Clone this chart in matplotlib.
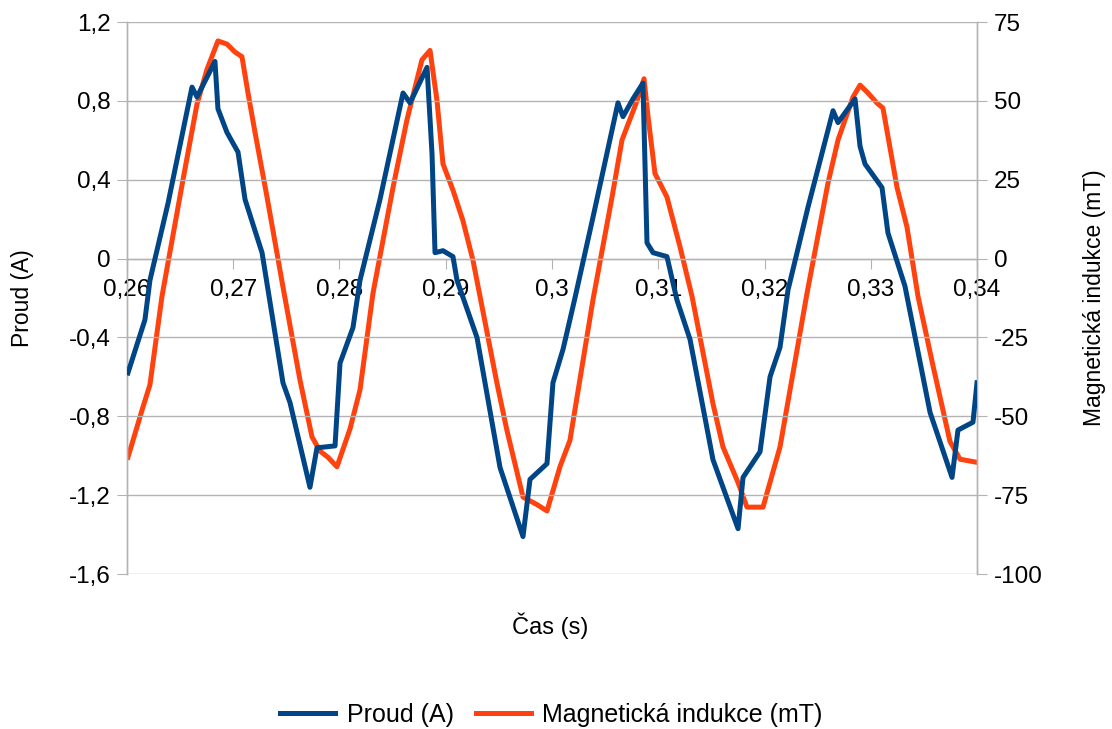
import numpy as np
import matplotlib.pyplot as plt
from matplotlib.ticker import FuncFormatter, MultipleLocator

plt.rcParams['font.family'] = ['Liberation Sans', 'DejaVu Sans']

# proud (A)
t_i = [0.26009, 0.26080, 0.26169, 0.26216, 0.26386, 0.26612, 0.26659, 0.26828,
       0.26856, 0.26941, 0.27045, 0.27111, 0.27271, 0.27468, 0.27534, 0.27722,
       0.27788, 0.27958, 0.28005, 0.28127, 0.28193, 0.28381, 0.28598, 0.28664,
       0.28824, 0.28871, 0.28899, 0.28974, 0.29068, 0.29106, 0.29294, 0.29511,
       0.29727, 0.29793, 0.29953, 0.30009, 0.30104, 0.30216, 0.30386, 0.30621,
       0.30668, 0.30762, 0.30856, 0.30894, 0.30951, 0.31082, 0.31176, 0.31299,
       0.31515, 0.31751, 0.31798, 0.31958, 0.32052, 0.32146, 0.32221, 0.32409,
       0.32645, 0.32692, 0.32852, 0.32899, 0.32946, 0.33106, 0.33162, 0.33322,
       0.33558, 0.33765, 0.33821, 0.33962, 0.34000]
proud = [-0.58, -0.46, -0.31, -0.11, 0.28, 0.87, 0.82, 1.00,
         0.76, 0.64, 0.54, 0.30, 0.03, -0.63, -0.73, -1.16,
         -0.96, -0.95, -0.53, -0.35, -0.11, 0.30, 0.84, 0.79,
         0.97, 0.53, 0.03, 0.04, 0.01, -0.11, -0.40, -1.06,
         -1.41, -1.12, -1.04, -0.63, -0.46, -0.20, 0.21, 0.79,
         0.72, 0.81, 0.89, 0.08, 0.03, 0.01, -0.21, -0.41,
         -1.02, -1.37, -1.11, -0.98, -0.60, -0.45, -0.16, 0.26,
         0.75, 0.69, 0.81, 0.57, 0.48, 0.36, 0.13, -0.14,
         -0.78, -1.11, -0.87, -0.83, -0.63]

# magneticka indukce (mT)
t_b = [0.26009, 0.26151, 0.26216, 0.26329, 0.26527, 0.26659, 0.26753, 0.26856,
       0.26941, 0.27016, 0.27082, 0.27139, 0.27205, 0.27318, 0.27468, 0.27628,
       0.27741, 0.27816, 0.27892, 0.27976, 0.28099, 0.28193, 0.28315, 0.28504,
       0.28635, 0.28776, 0.28852, 0.28918, 0.28974, 0.29068, 0.29162, 0.29256,
       0.29482, 0.29576, 0.29727, 0.29859, 0.29953, 0.30075, 0.30169, 0.30386,
       0.30565, 0.30659, 0.30800, 0.30866, 0.30904, 0.30969, 0.31082, 0.31205,
       0.31318, 0.31515, 0.31609, 0.31751, 0.31835, 0.31986, 0.32146, 0.32400,
       0.32598, 0.32692, 0.32833, 0.32899, 0.32974, 0.33059, 0.33115, 0.33247,
       0.33341, 0.33445, 0.33586, 0.33746, 0.33840, 0.34000]
indukce = [-63, -47, -40, -12, 25, 49, 60, 69,
           68, 65.5, 64, 52.5, 40, 19.5, -9, -38.5,
           -56.5, -61, -63, -66, -54, -41.6, -11, 22.6,
           44, 63, 66, 50, 30, 21.7, 12, -0.5,
           -39.5, -54.5, -75.6, -78, -80, -66, -57.6, -13,
           19.5, 37.6, 50, 57, 45, 27, 19.5, 3.7,
           -12, -46, -59.7, -71, -78.8, -78.8, -59.7, -11,
           24, 37.6, 51.2, 55, 52.5, 49.3, 47.7, 22.6,
           10, -12, -34, -58, -63.6, -64.6]

blue = '#004586'
orange = '#ff420e'
grid_c = '#b3b3b3'


def carka(v, pos):
    s = ('%.2f' % v).rstrip('0').rstrip('.')
    if s == '-0':
        s = '0'
    return s.replace('.', ',')


fig = plt.figure(figsize=(11.12, 7.29), dpi=100)
ax = fig.add_axes([0.1142, 0.2126, 0.7644, 0.7572])
ax2 = ax.twinx()

ax2.plot(t_b, indukce, color=orange, lw=3.6, solid_joinstyle='round', zorder=2)
ax.plot(t_i, proud, color=blue, lw=3.6, solid_joinstyle='round', zorder=3)
ax.set_zorder(ax2.get_zorder() + 1)
ax.patch.set_visible(False)

ax.set_xlim(0.26, 0.34)
ax.set_ylim(-1.6, 1.2)
ax2.set_ylim(-100, 75)
ax.xaxis.set_major_locator(MultipleLocator(0.01))
ax.yaxis.set_major_locator(MultipleLocator(0.4))
ax2.yaxis.set_major_locator(MultipleLocator(25))
ax.xaxis.set_major_formatter(FuncFormatter(carka))
ax.yaxis.set_major_formatter(FuncFormatter(carka))
ax2.yaxis.set_major_formatter(FuncFormatter(lambda v, p: '%d' % v))

ax.grid(axis='y', color=grid_c, lw=1)
ax.set_axisbelow(True)

for a in (ax, ax2):
    a.spines['top'].set_visible(False)
    for s in ('left', 'right', 'bottom'):
        a.spines[s].set_color(grid_c)
        a.spines[s].set_linewidth(1)
ax2.spines['bottom'].set_visible(False)
ax.spines['bottom'].set_position(('data', 0))

ax.tick_params(axis='x', direction='out', length=7, color=grid_c, labelsize=17.5, pad=8)
ax.tick_params(axis='y', direction='out', length=7, color=grid_c, labelsize=17.5, pad=5)
ax2.tick_params(axis='y', direction='out', length=7, color=grid_c, labelsize=17.5, pad=5)

ax.set_ylabel('Proud (A)', fontsize=16.5, labelpad=25)
ax2.set_ylabel('Magnetická indukce (mT)', fontsize=16.5, labelpad=29)
fig.text(0.495, 0.142, 'Čas (s)', fontsize=17, ha='center', va='center')

h = [plt.Line2D([], [], color=blue, lw=3.6), plt.Line2D([], [], color=orange, lw=3.6)]
fig.legend(h, ['Proud (A)', 'Magnetická indukce (mT)'], loc='center',
           bbox_to_anchor=(0.496, 0.019), ncol=2, frameon=False, fontsize=18,
           handlelength=2.2, columnspacing=0.9, handletextpad=0.45)

fig.savefig('out.png', dpi=100)
